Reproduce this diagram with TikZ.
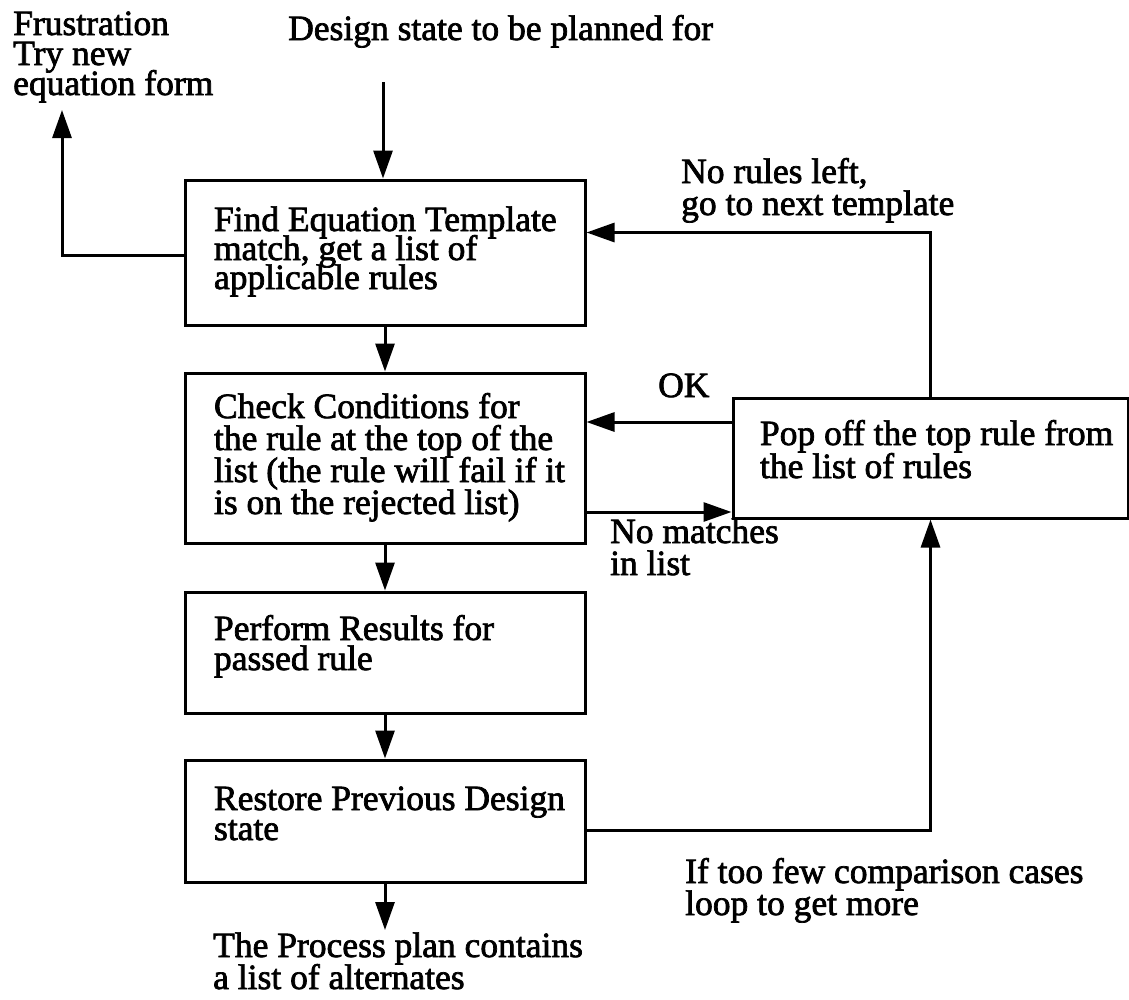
\documentclass[tikz,border=0pt]{standalone}
\usepackage{fontspec}
\setmainfont{Liberation Serif}
% slightly heavier roman for all drawn text
\newfontfamily\heavyserif{Liberation Serif}[FakeBold=2]
\usetikzlibrary{arrows.meta}
% text size with a chosen line spacing, kept even when lines get close
\newcommand\txt[1]{\heavyserif\fontsize{35.5}{#1}\selectfont\lineskiplimit=-1000pt\relax}
\begin{document}
\begin{tikzpicture}[x=1pt,y=-1pt,
  flowbox/.style={draw, line width=3pt, inner xsep=4pt, inner ysep=0pt,
    align=flush left, text width=392pt, text height=24pt},
  lbl/.style={inner sep=0pt, anchor=base west, align=flush left},
  flow/.style={line width=3pt, -{Triangle[length=28pt,width=19pt]}}]
\useasboundingbox (0,0) rectangle (1129,999);

% process boxes
\node[flowbox, minimum height=145pt, text depth=67pt, font=\txt{29}] (find) at (385,252.5)
  {\leftskip=25pt Find Equation Template\\match, get a list of\\applicable rules\par};
\node[flowbox, minimum height=170pt, text depth=104pt, font=\txt{32}] (check) at (385,458)
  {\leftskip=25pt Check Conditions for\\the rule at the top of the\\list (the rule will fail if it\\is on the rejected list)\par};
\node[flowbox, minimum height=121pt, text depth=49pt, font=\txt{30}] (perform) at (385,652.5)
  {\leftskip=25pt Perform Results for\\passed rule\par};
\node[flowbox, minimum height=122pt, text depth=46pt, font=\txt{30}] (restore) at (385,821)
  {\leftskip=25pt Restore Previous Design\\state\par};
\node[flowbox, text width=387pt, minimum height=120pt, text depth=50pt, font=\txt{33}] (pop) at (930.5,458)
  {\leftskip=23pt Pop off the top rule from\\the list of rules\par};

% free labels, each placed by the baseline of its last line
\node[lbl, font=\txt{30}] (frus) at (13,95) {Frustration\\Try new\\equation form};
\node[lbl, font=\txt{30}] (start) at (288,40) {Design state to be planned for};
\node[lbl, font=\txt{32}] (norules) at (681,215) {No rules left,\\go to next template};
\node[lbl, font=\txt{30}] (ok) at (658,397) {OK};
\node[lbl, font=\txt{32}] (nomatch) at (610,575) {No matches\\in list};
\node[lbl, font=\txt{32}] (toofew) at (685,915) {If too few comparison cases\\loop to get more};
\node[lbl, font=\txt{32}] (result) at (213,989) {The Process plan contains\\a list of alternates};

% loose ends of connectors
\coordinate (in) at (383,82);
\coordinate (frustop) at (62,110);
\coordinate (outp) at (385,930);

% connectors
\draw[flow] (in) -- (in |- find.north);
\draw[flow] ([yshift=-2.5pt]find.west) -| (frustop);
\draw[flow] (find.south) -- (check.north);
\draw[flow] (pop.north) |- ([yshift=20pt]find.east);
\draw[flow] ([yshift=36pt]pop.west) -- ([yshift=36pt]check.east);
\draw[flow] ([yshift=-54pt]check.east) -- ([yshift=-54pt]pop.west);
\draw[flow] (check.south) -- (perform.north);
\draw[flow] (perform.south) -- (restore.north);
\draw[flow] ([yshift=-9pt]restore.east) -| (pop.south);
\draw[flow] (restore.south) -- (outp);
\end{tikzpicture}
\end{document}
